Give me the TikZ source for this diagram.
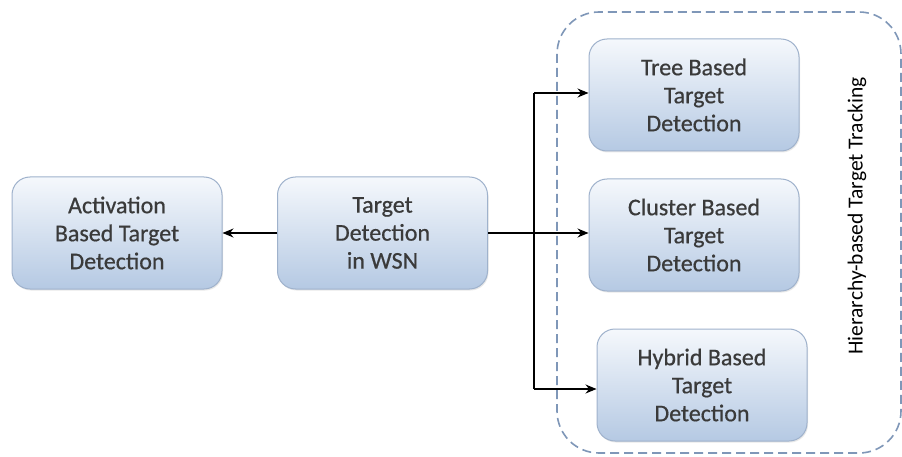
\documentclass[tikz,border=0pt]{standalone}
\usepackage{fontspec}
\setmainfont{Carlito}
\newfontfamily\boxfont[FakeBold=0.6]{Carlito}
\usetikzlibrary{arrows.meta,shadows}
\definecolor{boxtop}{HTML}{F5F8FC}
\definecolor{boxbot}{HTML}{B5C9E3}
\definecolor{boxline}{HTML}{9FB2CC}
\definecolor{txt}{HTML}{3A3A3A}
\definecolor{dashc}{HTML}{7F97B8}
\tikzset{
  tbox/.style={draw=boxline, line width=1pt, rounded corners=18pt,
    top color=boxtop, bottom color=boxbot, minimum width=210pt,
    minimum height=112pt, inner sep=0pt, align=center, text=txt,
    font=\boxfont\fontsize{24}{28}\selectfont,
    drop shadow={shadow xshift=1pt, shadow yshift=-1.5pt, opacity=0.18}},
  conn/.style={line width=1.1pt, black},
  arr/.style={conn, -{Stealth[length=11pt,width=9pt]}},
  group/.style={draw=dashc, line width=1.6pt, dash pattern=on 9pt off 5pt, rounded corners=42pt}
}
\begin{document}
\begin{tikzpicture}[x=1pt,y=-1pt]
\useasboundingbox[fill=white] (0,0) rectangle (902,457);
\draw[group] (557,12) rectangle (901,453);
\node[tbox] (act) at (117,233) {Activation\\Based Target\\Detection};
\node[tbox] (td) at (382.5,233) {Target\\Detection\\in WSN};
\node[tbox] (tree) at (694,95) {Tree Based\\Target\\Detection};
\node[tbox] (clu) at (694,235) {Cluster Based\\Target\\Detection};
\node[tbox] (hyb) at (702,385) {Hybrid Based\\Target\\Detection};
\node[rotate=90, text=black, font=\fontsize{21.5}{24}\selectfont] (lab) at (857,216) {Hierarchy-based Target Tracking};
\coordinate (j) at (534,233);
\coordinate (jt) at (534,93);
\coordinate (jh) at (534,389);
\draw[arr] (td.west) -- (act.east);
\draw[conn] (td.east) -- (j);
\draw[conn] (jt) -- (jh);
\draw[arr] (jt) -- (tree.west |- jt);
\draw[arr] (j) -- (clu.west |- j);
\draw[arr] (jh) -- (hyb.west |- jh);
\end{tikzpicture}
\end{document}
